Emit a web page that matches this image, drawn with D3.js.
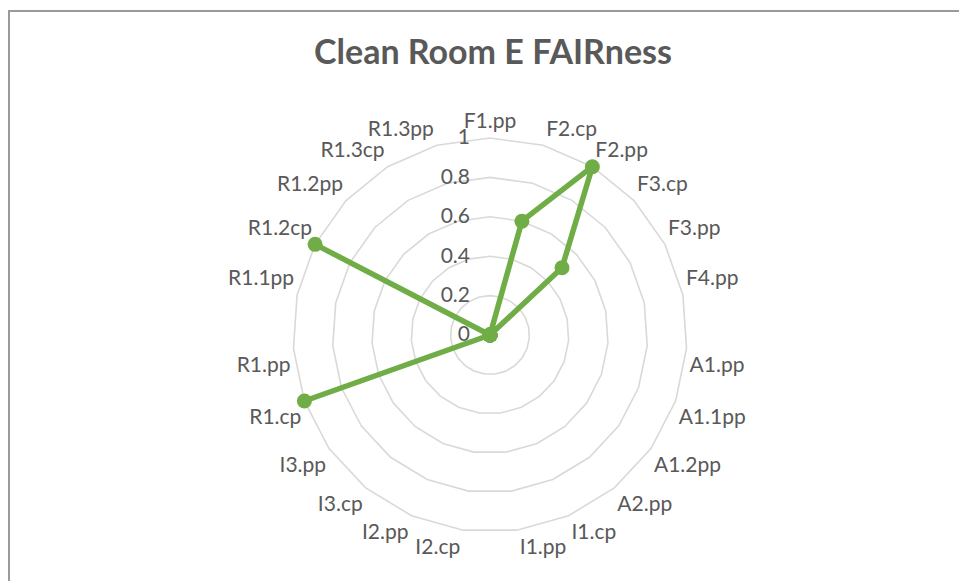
<!DOCTYPE html>
<html>
<head>
<meta charset="utf-8">
<script src="https://cdn.jsdelivr.net/npm/d3@7"></script>
<style>
  body { margin: 0; background: #fff; }
  svg { display: block; font-family: Lato, "Open Sans", sans-serif; }
</style>
</head>
<body>
<div id="chart"></div>
<script>
var categories = ['F1.pp','F2.cp','F2.pp','F3.cp','F3.pp','F4.pp','A1.pp','A1.1pp','A1.2pp','A2.pp',
    'I1.cp','I1.pp','I2.cp','I2.pp','I3.cp','I3.pp','R1.cp','R1.pp','R1.1pp','R1.2cp','R1.2pp','R1.3cp','R1.3pp'];
var fairValues = [0,0.6,1,0.5,0,0,0,0,0,0,0,0,0,0,0,0,1,0,0,1,0,0,0];
var tickValues = [0,0.2,0.4,0.6,0.8,1];
var tickLabels = ['0','0.2','0.4','0.6','0.8','1'];

var width = 959, height = 581;
var cx = 490, cy = 335, outerRadius = 197;

var svg = d3.select('#chart').append('svg')
    .attr('width', width)
    .attr('height', height);

// chart border (runs off the right and bottom edges)
svg.append('rect')
    .attr('x', 9).attr('y', 11)
    .attr('width', width + 20).attr('height', height + 20)
    .style('fill', 'none')
    .style('stroke', '#9a9a9a')
    .style('stroke-width', 2);

svg.append('text')
    .attr('x', 493).attr('y', 64)
    .style('text-anchor', 'middle')
    .style('font-size', '34px')
    .style('font-weight', 'bold')
    .style('fill', '#595959')
    .text('Clean Room E FAIRness');

var g = svg.append('g').attr('transform', 'translate(' + cx + ',' + cy + ')');

var angleScale = d3.scaleLinear()
    .domain([0, categories.length])
    .range([0, 2 * Math.PI]);

var radiusScale = d3.scaleLinear()
    .domain([0, 1])
    .range([0, outerRadius]);

function pointAt(i, v) {
    var a = angleScale(i), r = radiusScale(v);
    return [r * Math.sin(a), -r * Math.cos(a)];
}

// grid rings
g.selectAll('.ring')
    .data(tickValues.filter(function(d){ return d > 0; }))
    .enter().append('path')
    .attr('class', 'ring')
    .attr('d', function(t){
        return d3.line()(categories.map(function(c, i){ return pointAt(i, t); })) + 'Z';
    })
    .style('fill', 'none')
    .style('stroke', '#d9d9d9')
    .style('stroke-width', 1.6);

// value axis labels
g.selectAll('.tick-label')
    .data(tickValues)
    .enter().append('text')
    .attr('class', 'tick-label')
    .attr('x', -20)
    .attr('y', function(d){ return -radiusScale(d); })
    .attr('dy', '0.3em')
    .style('text-anchor', 'end')
    .style('font-size', '21px')
    .style('fill', '#595959')
    .text(function(d, i){ return tickLabels[i]; });

// category labels
g.selectAll('.cat-label')
    .data(categories)
    .enter().append('text')
    .attr('class', 'cat-label')
    .each(function(d, i){
        var a = angleScale(i);
        var s = Math.sin(a), c = Math.cos(a);
        var p = pointAt(i, 1);
        var anchor = Math.abs(s) < 0.01 ? 'middle' : (s > 0 ? 'start' : 'end');
        var x = p[0] + (Math.abs(s) < 0.01 ? 0 : (s > 0 ? 3 : -3));
        var y = p[1] + (c > 0 ? -17 : 16);
        d3.select(this)
            .attr('x', x).attr('y', y)
            .attr('dy', '0.35em')
            .style('text-anchor', anchor);
    })
    .style('font-size', '21px')
    .style('fill', '#595959')
    .text(function(d){ return d; });

// series line
var linePath = d3.line()
    .x(function(d, i){ return pointAt(i, d)[0]; })
    .y(function(d, i){ return pointAt(i, d)[1]; });

g.append('path')
    .datum(fairValues)
    .attr('d', function(d){ return linePath(d) + 'Z'; })
    .style('fill', 'none')
    .style('stroke', '#70ad47')
    .style('stroke-width', 5.5)
    .style('stroke-linejoin', 'round');

g.selectAll('.marker')
    .data(fairValues)
    .enter().append('circle')
    .attr('class', 'marker')
    .attr('cx', function(d, i){ return pointAt(i, d)[0]; })
    .attr('cy', function(d, i){ return pointAt(i, d)[1]; })
    .attr('r', 7.5)
    .style('fill', '#70ad47');
</script>
</body>
</html>
